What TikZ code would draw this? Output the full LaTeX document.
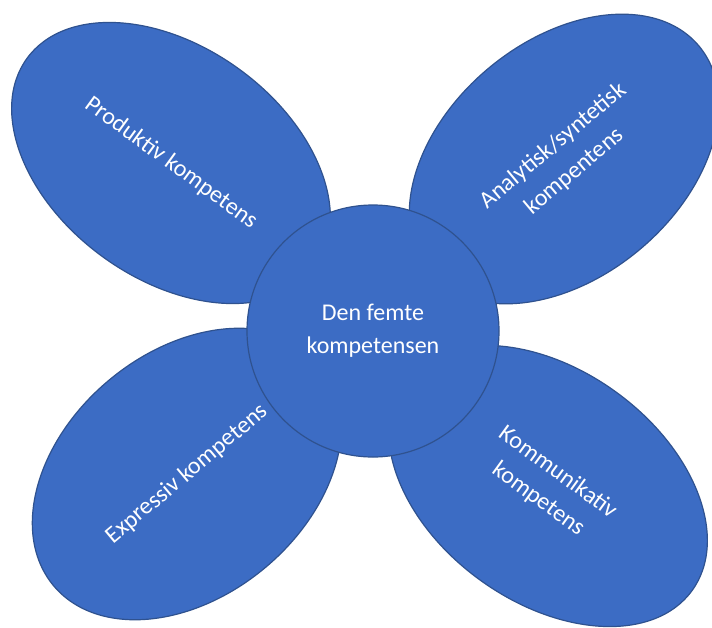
\documentclass[tikz,border=0pt]{standalone}
\usepackage{fontspec}
\setmainfont{Carlito}
\usepackage{tikz}
\usetikzlibrary{shapes.geometric}
\definecolor{petalblue}{RGB}{60,108,196}
\definecolor{petalline}{RGB}{47,82,143}

\begin{document}
\begin{tikzpicture}
	[
	x = 0.5pt, y = -0.5pt,
	petal/.style = {ellipse, draw = petalline, line width = 0.6pt, fill = petalblue, text = white, align = center, inner sep = 0pt, font = \fontsize{12}{16.5}\selectfont},
	hub/.style = {circle, draw = petalline, line width = 0.6pt, fill = petalblue, text = white, align = center, inner sep = 0pt, minimum size = 126pt, font = \fontsize{12}{16.5}\selectfont}
	]
	
	\clip (0,0) rectangle (712,627);
	\fill [white] (0,0) rectangle (712,627);
	
	\node [petal, minimum width = 178pt, minimum height = 116pt, rotate = -36] (produktiv) at (171,163) {Produktiv kompetens};
	\node [petal, minimum width = 176pt, minimum height = 118pt, rotate = 40] (analytisk) at (564,159) {Analytisk/syntetisk\\kompentens};
	\node [petal, minimum width = 174pt, minimum height = 122pt, rotate = 40] (expressiv) at (187,474) {Expressiv kompetens};
	\node [petal, minimum width = 178pt, minimum height = 116pt, rotate = -36] (kommunikativ) at (548,486) {Kommunikativ\\kompetens};
	
	\node [hub] (femte) at (373,331) {Den femte\\kompetensen};
	
\end{tikzpicture}
\end{document}
